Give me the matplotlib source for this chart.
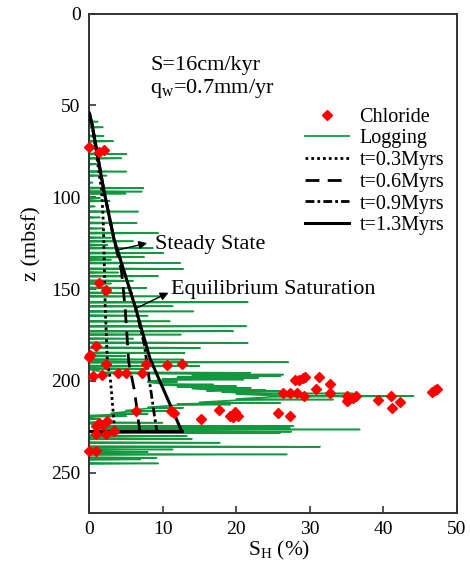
import matplotlib
matplotlib.use("Agg")
import matplotlib.pyplot as plt
from matplotlib.lines import Line2D

plt.rcParams["font.family"] = ["Liberation Serif", "DejaVu Serif"]
plt.rcParams["mathtext.fontset"] = "custom"
plt.rcParams["mathtext.rm"] = "Liberation Serif"
plt.rcParams["mathtext.it"] = "Liberation Serif:italic"

# ---- hydrate saturation from chloride anomalies ----
chloride_sh = [0.0, 1.3, 2.1, 1.4, 2.3, 1.0, 0.2, 0.0, 2.3, 7.8, 10.6, 12.6,
               0.6, 1.7, 4.0, 5.0, 7.2, 28.0, 28.5, 29.1, 29.4, 31.3, 32.8,
               30.8, 26.4, 27.3, 28.2, 29.2, 32.7, 35.0, 35.2, 35.0, 35.8,
               36.3, 39.2, 41.0, 41.1, 42.3, 46.6, 47.0, 47.3, 6.4, 11.2,
               11.6, 15.2, 17.6, 19.2, 19.8, 20.3, 19.6, 25.7, 27.3, 1.3,
               2.4, 1.0, 1.7, 1.0, 2.3, 3.4, 0.0, 0.95]
chloride_z = [72.4, 75.1, 74.2, 146.7, 150.4, 181.2, 185.7, 187.0, 191.1,
              191.1, 191.5, 191.1, 197.5, 196.6, 195.6, 195.6, 195.6, 199.7,
              199.7, 198.4, 197.8, 197.8, 201.5, 204.7, 206.5, 206.5, 206.5,
              208.4, 206.9, 208.0, 210.2, 211.0, 209.3, 208.0, 210.5, 208.4,
              214.7, 211.4, 206.2, 205.1, 204.4, 216.5, 216.5, 217.5, 221.0,
              216.0, 219.2, 217.1, 218.9, 219.8, 217.4, 219.2, 222.9, 222.0,
              224.7, 224.2, 229.2, 229.2, 227.4, 238.3, 238.3]

# ---- resistivity-log derived saturation: spike depth, peak value, base value ----
log_top = 50.0
log_bottom = 246.0
log_depth = [55, 58.8, 61.9, 66.6, 69.5, 72, 76.4, 78.8, 82, 86, 88.2, 92,
             95, 96.9, 98, 100.5, 102, 105, 107.8, 111, 114, 117, 119.5, 122,
             124, 126, 127.7, 130.4, 132.6, 134, 135.8, 139, 141, 143, 145.5,
             147, 149.4, 152.1, 154, 157.2, 159.4, 162.2, 164.5, 167.6, 170.3,
             173, 174.8, 177, 179.3, 182, 184.8, 186.5, 188.4, 189.9, 192,
             193.5, 195.6, 196.6, 197.5, 198.4, 199.3, 200.5, 202, 202.9,
             203.8, 205.1, 205.6, 206.9, 208.4, 210.2, 212, 212.9, 214.7,
             216.5, 218, 219.3, 220.7, 222.8, 224.7, 225.6, 226.5, 227.7,
             228.3, 230.1, 231.6, 233.7, 235.9, 237.4, 238.8, 240.1, 241.9,
             242.8, 245]
log_peak = [0.3, 1.2, 1.9, 2.0, 3.3, 0.8, 5.1, 4.4, 1.0, 5.1, 2.4, 0.5,
            7.4, 7.2, 5.0, 1.5, 2.8, 0.8, 6.7, 1.5, 6.5, 2.0, 9.4, 3.0,
            6.0, 2.5, 8.7, 10.1, 7.5, 3.0, 12.4, 12.8, 4.0, 9.4, 6.0,
            3.0, 7.8, 5.9, 9.9, 21.6, 11.4, 14.2, 8.0, 11.0, 21.4,
            19.6, 12.5, 6.0, 21.6, 15.1, 13.0, 5.0, 12.8, 27.1, 15.0,
            8.0, 21.9, 26.4, 26.0, 23.0, 21.0, 12.0, 16.9, 20.0,
            22.0, 24.0, 26.0, 35.9, 44.1, 33.2, 26.0, 19.2, 12.8,
            11.5, 8.0, 5.1, 1.5, 10.0, 27.8, 27.3, 36.8, 27.5,
            26.0, 13.3, 14.0, 17.8, 31.4, 11.4, 8.0, 26.9, 9.2,
            7.0, 9.4]
log_base = [0, 0, 0, 0, 0, 0, 0, 0, 0, 0, 0, 0,
            0, 0, 0, 0, 0, 0, 0, 0, 0, 0, 0, 0,
            0, 0, 0, 0, 0, 0, 0, 0, 0, 0, 0,
            0, 0, 0, 0, 0, 0, 0, 0, 0, 0,
            0, 0, 0, 0, 0, 0, 0, 0, 0, 0,
            0, 2, 14, 15, 12, 10, 8, 10, 12,
            14, 16, 18, 20, 25, 20, 15, 12, 8,
            5, 3, 0, 0, 0, 1, 1, 2, 1,
            1, 0, 0, 0, 0, 0, 0, 0, 0,
            0, 0]

# ---- model saturation profiles (z in mbsf, S_H in %) ----
t03_z = [54, 60, 96, 110, 123, 160, 190, 199, 227.5]
t03_s = [0, 0.4, 1.7, 1.9, 2.0, 2.2, 2.5, 2.9, 3.5]
t06_z = [54, 60, 96, 123, 140, 160, 190, 206, 227.5]
t06_s = [0, 0.4, 2.0, 3.4, 4.4, 4.9, 5.4, 6.2, 6.9]
t09_z = [54, 60, 96, 123, 160, 180, 197, 227.5]
t09_s = [0, 0.4, 2.0, 3.4, 6.3, 7.5, 8.1, 9.2]
t13_z = [54, 60, 96, 123, 160, 188, 227.5]
t13_s = [0, 0.4, 2.0, 3.4, 6.3, 8.3, 12.6]
bsr_z = 227.5
bsr_s = [0, 12.6]

fig = plt.figure(figsize=(4.7, 5.7), dpi=100)
ax = fig.add_axes([0.1894, 0.10, 0.783, 0.876])

# logging trace: thin spikes out from the base value at each depth
half = 0.35
trace_z = [log_top]
trace_s = [0.0]
for d, p, b in zip(log_depth, log_peak, log_base):
    trace_z += [d - half, d, d + half]
    trace_s += [b, p, b]
trace_z.append(log_bottom)
trace_s.append(0.0)

green = "#12993f"
ax.plot(trace_s, trace_z, color=green, lw=1.1, label="Logging", zorder=2,
        clip_on=False)

ax.plot(t03_s, t03_z, color="black", lw=2.0, linestyle=(0, (1, 1.1)),
        label="t=0.3Myrs", zorder=3)
ax.plot(t06_s, t06_z, color="black", lw=2.0, linestyle=(0, (5, 3)),
        label="t=0.6Myrs", zorder=3)
ax.plot(t09_s, t09_z, color="black", lw=2.0, linestyle=(0, (3.2, 1.1, 1, 1.1)),
        label="t=0.9Myrs", zorder=3)
ax.plot(t13_s, t13_z, color="black", lw=2.2, label="t=1.3Myrs", zorder=3)
ax.plot(bsr_s, [bsr_z, bsr_z], color="black", lw=2.2, zorder=3)

ax.plot(chloride_sh, chloride_z, linestyle="none", marker="D", ms=5.2,
        mfc="#ff0000", mec="#ff0000", label="Chloride", zorder=4,
        clip_on=False)

ax.set_xlim(0, 50)
ax.set_ylim(272, 0)
ax.set_xticks([0, 10, 20, 30, 40, 50])
ax.set_yticks([0, 50, 100, 150, 200, 250])
ax.tick_params(direction="in", length=5, width=1.2, labelsize=14, pad=6,
               color="#333333")
for sp in ax.spines.values():
    sp.set_color("#333333")
    sp.set_linewidth(1.4)

ax.set_xlabel(r"S$_{\mathrm{H}}$ (%)", fontsize=15.5)
ax.set_ylabel("z (mbsf)", fontsize=16)
ax.xaxis.set_label_coords(0.516, -0.053)
ax.yaxis.set_label_coords(-0.128, 0.54)

ax.text(8.3, 28, "S=16cm/kyr", fontsize=16, va="center", ha="left")
ax.text(8.3, 41, r"q$_{\mathrm{w}}$=0.7mm/yr", fontsize=16, va="center",
        ha="left")

arrow = dict(arrowstyle="-|>", color="black", lw=1.0, mutation_scale=12,
             shrinkA=0, shrinkB=0)
ax.annotate("", xy=(7.9, 125.0), xytext=(4.0, 128.6), arrowprops=arrow)
ax.text(9.0, 125.5, "Steady State", fontsize=16, va="center", ha="left")
ax.annotate("", xy=(10.8, 152.0), xytext=(6.5, 160.3), arrowprops=arrow)
ax.text(11.1, 150.0, "Equilibrium Saturation", fontsize=16, va="center",
        ha="left")

handles = [
    Line2D([], [], linestyle="none", marker="D", ms=5.2, mfc="#ff0000",
           mec="#ff0000"),
    Line2D([], [], color=green, lw=1.3),
    Line2D([], [], color="black", lw=2.0, linestyle=(0, (1, 1.1))),
    Line2D([], [], color="black", lw=2.0, linestyle=(0, (5, 3))),
    Line2D([], [], color="black", lw=2.0, linestyle=(0, (3.2, 1.1, 1, 1.1))),
    Line2D([], [], color="black", lw=2.2),
]
labels = ["Chloride", "Logging", "t=0.3Myrs", "t=0.6Myrs", "t=0.9Myrs",
          "t=1.3Myrs"]
ax.legend(handles, labels, loc="upper left", bbox_to_anchor=(0.587, 0.812),
          frameon=False, fontsize=14.5, handlelength=2.2, handletextpad=0.5,
          labelspacing=0.13, borderpad=0, borderaxespad=0)

fig.savefig("out.png", dpi=100)
